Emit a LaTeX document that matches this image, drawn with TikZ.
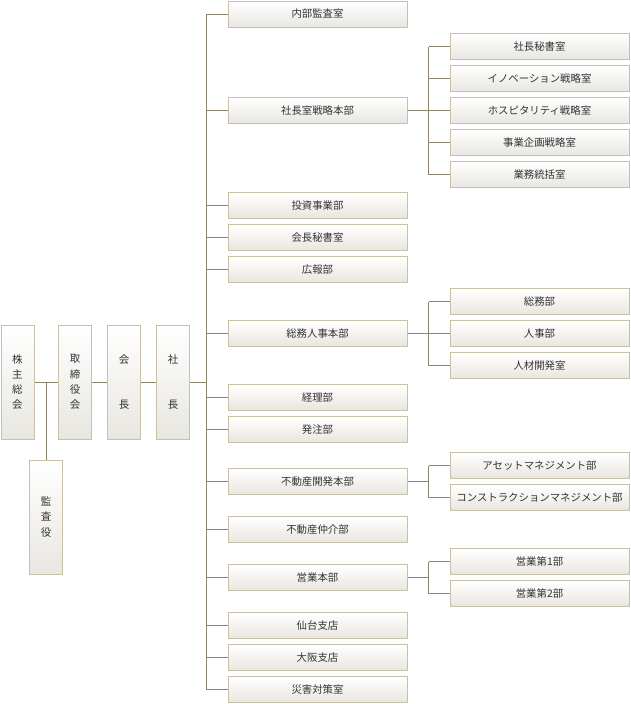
\documentclass[tikz,border=0pt]{standalone}
\usepackage{fontspec}
\newfontfamily\jp{Noto Sans CJK JP}
\usetikzlibrary{positioning,calc}

\definecolor{boxline}{HTML}{C8C1A8}
\definecolor{boxfill}{HTML}{E8E6E0}
\definecolor{conn}{HTML}{8C846C}

\begin{document}
\begin{tikzpicture}[
      x=1pt, y=-1pt,
      box/.style={draw=boxline, line width=1pt, top color=white, bottom color=boxfill, minimum width=179pt, minimum height=26pt, inner sep=0pt, text=black!80, font=\jp\fontsize{10.4}{12}\selectfont},
      vbox/.style={box, minimum width=33pt, minimum height=114pt, align=center, font=\jp\fontsize{10.5}{15.3}\selectfont},
      conn/.style={draw=conn, line width=1pt}
    ]
    \useasboundingbox (0,0) rectangle (630,704);

    % top of the company, left column
    \node[vbox] (kabunushi) at (17.5,382) {株\\主\\総\\会};
    \node[vbox] (torishimari) at (75,382) {取\\締\\役\\会};
    \node[vbox] (kaicho) at (124,382) {会\\[29pt]長};
    \node[vbox] (shacho) at (173,382) {社\\[29pt]長};
    \node[vbox] (kansa) at (46,517) {監\\査\\役};

    % departments under the president
    \node[box] (naibu) at (317.5,14) {内部監査室};
    \node[box] (senryaku) at (317.5,110.5) {社長室戦略本部};
    \node[box] (toshi) at (317.5,205.5) {投資事業部};
    \node[box] (kaichohisho) at (317.5,237.5) {会長秘書室};
    \node[box] (koho) at (317.5,269.5) {広報部};
    \node[box] (somujinji) at (317.5,333.5) {総務人事本部};
    \node[box] (keiri) at (317.5,397.5) {経理部};
    \node[box] (hatchu) at (317.5,429.5) {発注部};
    \node[box] (kaihatsu) at (317.5,481.5) {不動産開発本部};
    \node[box] (chukai) at (317.5,529.5) {不動産仲介部};
    \node[box] (eigyo) at (317.5,577.5) {営業本部};
    \node[box] (sendai) at (317.5,625.5) {仙台支店};
    \node[box] (osaka) at (317.5,657.5) {大阪支店};
    \node[box] (saigai) at (317.5,689.5) {災害対策室};

    % sections
    \node[box] (hisho) at (539.5,46.5) {社長秘書室};
    \node[box] (innov) at (539.5,78.5) {イノベーション戦略室};
    \node[box] (hospi) at (539.5,110.5) {ホスピタリティ戦略室};
    \node[box] (kikaku) at (539.5,142.5) {事業企画戦略室};
    \node[box] (tokatsu) at (539.5,174.5) {業務統括室};
    \node[box] (somu) at (539.5,301.5) {総務部};
    \node[box] (jinji) at (539.5,333.5) {人事部};
    \node[box] (jinzai) at (539.5,365.5) {人材開発室};
    \node[box] (asset) at (539.5,465.5) {アセットマネジメント部};
    \node[box] (construct) at (539.5,497.5) {コンストラクションマネジメント部};
    \node[box] (eigyo1) at (539.5,561.5) {営業第1部};
    \node[box] (eigyo2) at (539.5,593.5) {営業第2部};

    \coordinate (trunk) at (206.5,0);
    \coordinate (sub) at (428.5,0);

    \draw[conn] (kabunushi) -- (torishimari);
    \draw[conn] (torishimari) -- (kaicho);
    \draw[conn] (kaicho) -- (shacho);
    \draw[conn] (kansa.north |- kabunushi.east) -- (kansa.north);
    \draw[conn] (shacho.east) -- (trunk |- shacho.east);
    \draw[conn] (trunk |- naibu.west) -- (trunk |- saigai.west);

    \draw[conn] (trunk |- naibu.west) -- (naibu.west);
    \draw[conn] (trunk |- senryaku.west) -- (senryaku.west);
    \draw[conn] (trunk |- toshi.west) -- (toshi.west);
    \draw[conn] (trunk |- kaichohisho.west) -- (kaichohisho.west);
    \draw[conn] (trunk |- koho.west) -- (koho.west);
    \draw[conn] (trunk |- somujinji.west) -- (somujinji.west);
    \draw[conn] (trunk |- keiri.west) -- (keiri.west);
    \draw[conn] (trunk |- hatchu.west) -- (hatchu.west);
    \draw[conn] (trunk |- kaihatsu.west) -- (kaihatsu.west);
    \draw[conn] (trunk |- chukai.west) -- (chukai.west);
    \draw[conn] (trunk |- eigyo.west) -- (eigyo.west);
    \draw[conn] (trunk |- sendai.west) -- (sendai.west);
    \draw[conn] (trunk |- osaka.west) -- (osaka.west);
    \draw[conn] (trunk |- saigai.west) -- (saigai.west);

    % 社長室戦略本部
    \draw[conn] (senryaku.east) -- (sub |- senryaku.east);
    \draw[conn] (sub |- hisho.west) -- (sub |- tokatsu.west);
    \draw[conn] (sub |- hisho.west) -- (hisho.west);
    \draw[conn] (sub |- innov.west) -- (innov.west);
    \draw[conn] (sub |- hospi.west) -- (hospi.west);
    \draw[conn] (sub |- kikaku.west) -- (kikaku.west);
    \draw[conn] (sub |- tokatsu.west) -- (tokatsu.west);

    % 総務人事本部
    \draw[conn] (somujinji.east) -- (sub |- somujinji.east);
    \draw[conn] (sub |- somu.west) -- (sub |- jinzai.west);
    \draw[conn] (sub |- somu.west) -- (somu.west);
    \draw[conn] (sub |- jinji.west) -- (jinji.west);
    \draw[conn] (sub |- jinzai.west) -- (jinzai.west);

    % 不動産開発本部
    \draw[conn] (kaihatsu.east) -- (sub |- kaihatsu.east);
    \draw[conn] (sub |- asset.west) -- (sub |- construct.west);
    \draw[conn] (sub |- asset.west) -- (asset.west);
    \draw[conn] (sub |- construct.west) -- (construct.west);

    % 営業本部
    \draw[conn] (eigyo.east) -- (sub |- eigyo.east);
    \draw[conn] (sub |- eigyo1.west) -- (sub |- eigyo2.west);
    \draw[conn] (sub |- eigyo1.west) -- (eigyo1.west);
    \draw[conn] (sub |- eigyo2.west) -- (eigyo2.west);
  \end{tikzpicture}
\end{document}
